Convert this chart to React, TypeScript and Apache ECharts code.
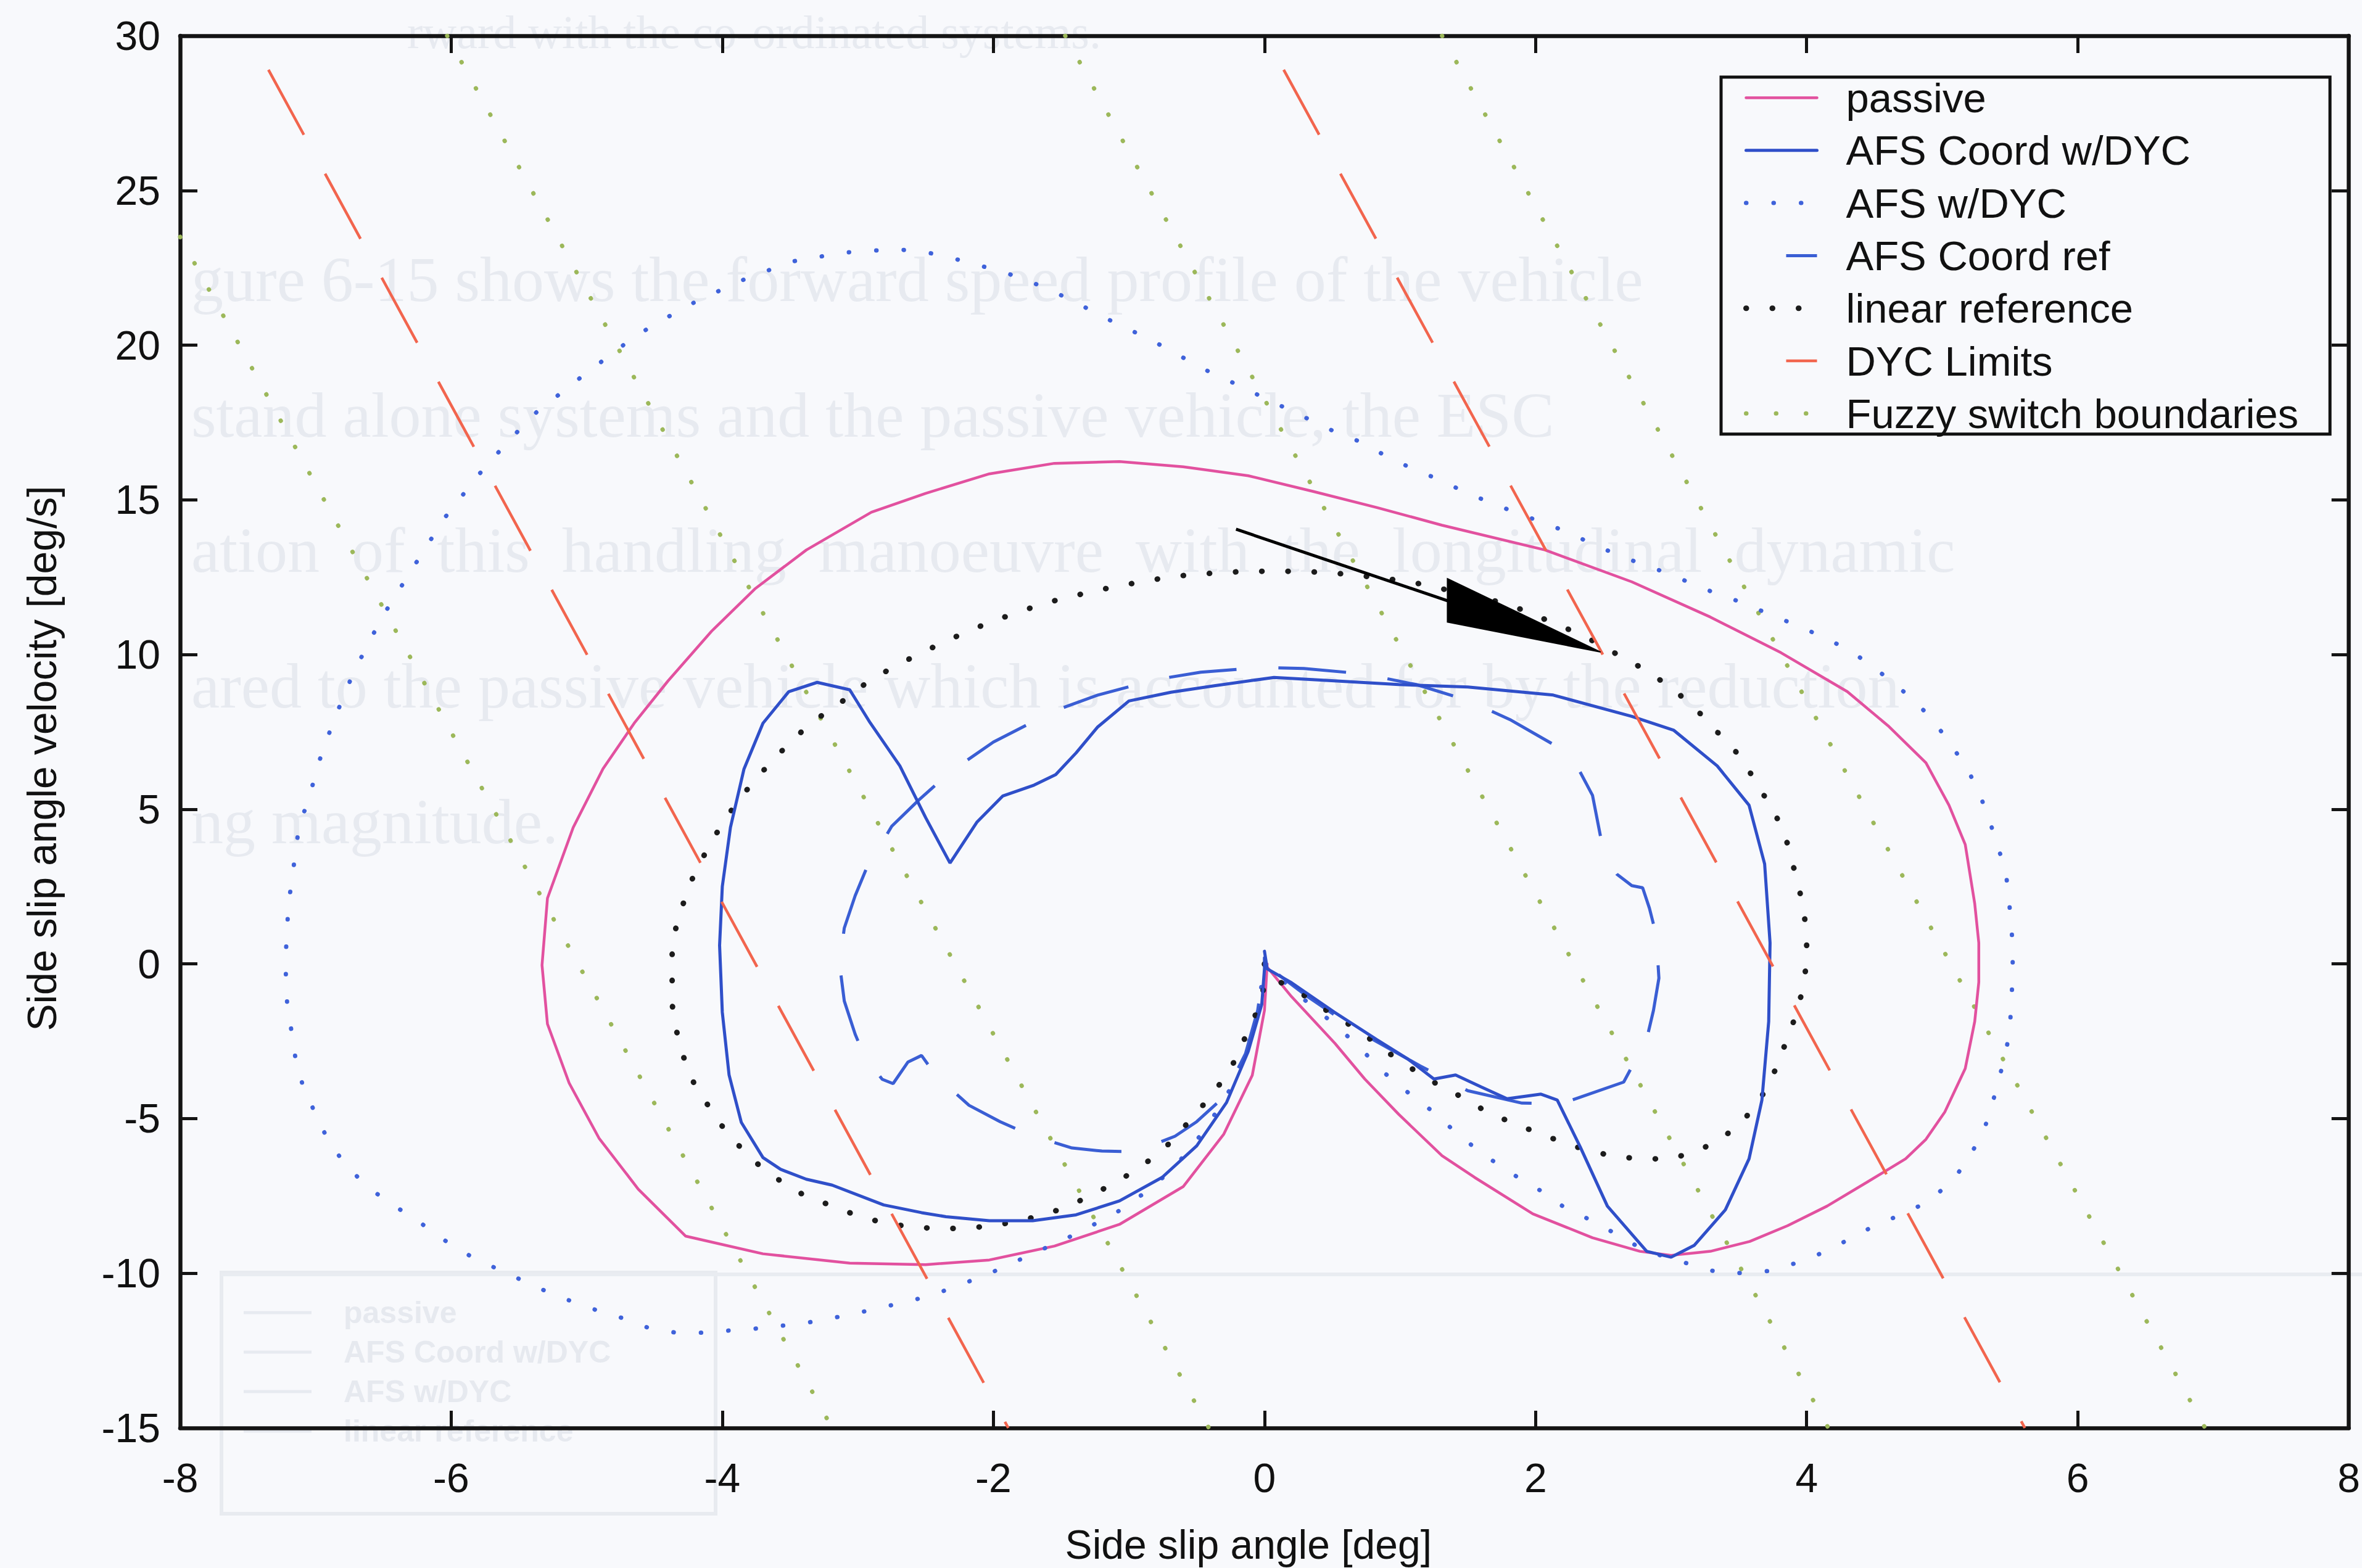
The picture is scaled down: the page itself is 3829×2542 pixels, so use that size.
import React, { useEffect, useRef } from "react";
import * as echarts from "echarts";

const W = 3829;
const H = 2542;
const FONT = "'Liberation Sans', Arial, Helvetica, sans-serif";
const SERIF = "'Liberation Serif', 'DejaVu Serif', serif";

// axes
const X_MIN = -8, X_MAX = 8, X_STEP = 2;
const Y_MIN = -15, Y_MAX = 30, Y_STEP = 5;
const X_NAME = "Side slip angle [deg]";
const Y_NAME = "Side slip angle velocity [deg/s]";

const NAMES = [
  "passive",
  "AFS Coord w/DYC",
  "AFS w/DYC",
  "AFS Coord ref",
  "linear reference",
  "DYC Limits",
  "Fuzzy switch boundaries",
];

// passive
const passive: number[][] = [
  [0, 0], [0.2, -1.06], [0.52, -2.57], [0.74, -3.72], [0.99, -4.86], [1.31, -6.2], [1.55, -6.9],
  [1.98, -8.08], [2.42, -8.85], [2.77, -9.29], [3.0, -9.42], [3.29, -9.29], [3.58, -8.97],
  [3.86, -8.46], [4.15, -7.83], [4.44, -7.07], [4.73, -6.3], [4.88, -5.67], [5.02, -4.78],
  [5.17, -3.38], [5.24, -1.86], [5.27, -0.59], [5.27, 0.68], [5.24, 1.95], [5.17, 3.86],
  [5.05, 5.13], [4.88, 6.5], [4.6, 7.7], [4.3, 8.8], [3.81, 10.06], [3.29, 11.21], [2.71, 12.35],
  [2.07, 13.38], [1.31, 14.18], [0.83, 14.75], [0.36, 15.27], [-0.12, 15.78], [-0.6, 16.07],
  [-1.07, 16.24], [-1.55, 16.18], [-2.03, 15.84], [-2.5, 15.21], [-2.9, 14.6], [-3.38, 13.38],
  [-3.76, 12.12], [-4.08, 10.75], [-4.4, 9.15], [-4.65, 7.78], [-4.88, 6.31], [-5.1, 4.41],
  [-5.29, 2.12], [-5.33, -0.04], [-5.29, -1.94], [-5.13, -3.85], [-4.91, -5.63], [-4.62, -7.28],
  [-4.27, -8.8], [-3.7, -9.37], [-3.06, -9.67], [-2.5, -9.72], [-2.03, -9.57], [-1.55, -9.12],
  [-1.07, -8.42], [-0.6, -7.2], [-0.3, -5.5], [-0.09, -3.6], [0, -1.5], [0.02, 0],
];

// AFS Coord w/DYC
const afsCoordDyc: number[][] = [
  [0, 0.41], [0.02, -0.16], [0.2, -0.61], [0.515, -1.56], [0.83, -2.45], [1.06, -3.08],
  [1.25, -3.72], [1.41, -3.59], [1.6, -3.98], [1.79, -4.36], [2.04, -4.21], [2.16, -4.4],
  [2.33, -5.92], [2.53, -7.83], [2.82, -9.29], [3.0, -9.48], [3.17, -9.1], [3.4, -7.95],
  [3.575, -6.3], [3.67, -4.4], [3.72, -1.86], [3.73, 0.68], [3.69, 3.23], [3.575, 5.13],
  [3.34, 6.4], [3.02, 7.55], [2.71, 8.0], [2.13, 8.69], [1.5, 8.95], [0.99, 9.03], [0.515, 9.15],
  [0.07, 9.26], [-0.37, 8.99], [-0.69, 8.78], [-1.0, 8.5], [-1.23, 7.66], [-1.39, 6.82],
  [-1.54, 6.12], [-1.7, 5.78], [-1.93, 5.43], [-2.12, 4.59], [-2.32, 3.26], [-2.5, 4.73],
  [-2.69, 6.4], [-2.91, 7.8], [-3.06, 8.86], [-3.3, 9.1], [-3.51, 8.8], [-3.7, 7.78],
  [-3.84, 6.3], [-3.94, 4.41], [-4.0, 2.5], [-4.02, 0.6], [-4.0, -1.56], [-3.95, -3.59],
  [-3.86, -5.12], [-3.7, -6.26], [-3.57, -6.64], [-3.38, -6.96], [-3.19, -7.15], [-2.81, -7.79],
  [-2.53, -8.04], [-2.35, -8.17], [-2.03, -8.3], [-1.71, -8.3], [-1.39, -8.11], [-1.07, -7.66],
  [-0.755, -6.9], [-0.5, -5.88], [-0.28, -4.48], [-0.12, -2.83], [-0.02, -1.31], [0, -0.16],
  [0, 0.2],
];

// AFS w/DYC
const afsDyc: number[][] = [
  [0, 0], [0.25, -1.0], [0.48, -1.82], [0.675, -2.58], [0.87, -3.47], [1.06, -4.16], [1.25, -4.8],
  [1.44, -5.56], [1.63, -6.2], [1.82, -6.77], [2.01, -7.25], [2.2, -7.83], [2.4, -8.27],
  [2.59, -8.72], [2.78, -9.2], [2.97, -9.5], [3.16, -9.73], [3.36, -9.99], [3.55, -9.99],
  [3.73, -9.92], [3.92, -9.67], [4.11, -9.35], [4.31, -8.91], [4.5, -8.46], [4.7, -8.1],
  [4.89, -7.7], [5.08, -7.0], [5.21, -6.17], [5.31, -5.35], [5.37, -4.52], [5.42, -3.7],
  [5.47, -2.87], [5.5, -2.05], [5.51, -1.22], [5.52, -0.4], [5.52, 0.43], [5.51, 1.32],
  [5.49, 2.14], [5.47, 2.97], [5.41, 3.8], [5.35, 4.62], [5.28, 5.45], [5.19, 6.27], [5.06, 7.12],
  [4.91, 8.0], [4.73, 8.75], [4.54, 9.43], [4.36, 10.01], [4.17, 10.47], [3.97, 10.86],
  [3.78, 11.21], [3.59, 11.55], [3.4, 11.89], [3.2, 12.18], [3.01, 12.58], [2.82, 12.86],
  [2.62, 13.2], [2.43, 13.55], [2.24, 13.95], [2.04, 14.29], [1.86, 14.58], [1.66, 14.92],
  [1.47, 15.27], [1.28, 15.67], [1.09, 16.01], [0.9, 16.41], [0.71, 16.87], [0.515, 17.21],
  [0.325, 17.61], [0.135, 18.01], [-0.056, 18.41], [-0.245, 18.81], [-0.44, 19.21],
  [-0.63, 19.67], [-0.82, 20.13], [-1.01, 20.53], [-1.2, 20.93], [-1.39, 21.38], [-1.58, 21.78],
  [-1.77, 22.13], [-1.96, 22.41], [-2.16, 22.64], [-2.35, 22.87], [-2.54, 23.04], [-2.73, 23.1],
  [-3.11, 22.99], [-3.49, 22.7], [-3.87, 22.07], [-4.26, 21.27], [-4.64, 20.3], [-5.02, 19.04],
  [-5.4, 17.73], [-5.75, 16.07], [-6.05, 14.41], [-6.29, 12.75], [-6.51, 11.21], [-6.72, 9.43],
  [-6.87, 7.83], [-6.97, 6.6], [-7.05, 5.36], [-7.12, 4.47], [-7.15, 3.65], [-7.17, 2.82],
  [-7.2, 1.99], [-7.21, 1.17], [-7.22, 0.34], [-7.22, -0.55], [-7.21, -1.31], [-7.18, -2.13],
  [-7.15, -3.02], [-7.1, -3.85], [-7.02, -4.67], [-6.93, -5.5], [-6.8, -6.39], [-6.62, -7.21],
  [-6.43, -7.79], [-6.23, -8.36], [-6.05, -8.93], [-5.86, -9.44], [-5.65, -9.88], [-5.46, -10.26],
  [-5.27, -10.64], [-5.08, -10.96], [-4.91, -11.22], [-4.72, -11.47], [-4.53, -11.79],
  [-4.34, -11.92], [-4.14, -11.92], [-3.95, -11.85], [-3.76, -11.79], [-3.57, -11.7],
  [-3.38, -11.6], [-3.19, -11.45], [-3.0, -11.28], [-2.81, -11.09], [-2.6, -10.88],
  [-2.41, -10.64], [-2.22, -10.33], [-2.03, -10.01], [-1.84, -9.63], [-1.65, -9.25],
  [-1.46, -8.87], [-1.27, -8.45], [-1.08, -8.0], [-0.9, -7.45], [-0.72, -6.8], [-0.55, -6.0],
  [-0.4, -5.1], [-0.26, -4.1], [-0.14, -2.9], [-0.05, -1.6], [0, 0],
];

// AFS Coord ref
const afsCoordRef: number[][] = [
  [0, 0], [-0.05, -1.5], [-0.14, -2.9], [-0.3, -4.3], [-0.5, -5.1], [-0.66, -5.57],
  [-0.95, -6.07], [-1.2, -6.05], [-1.42, -5.95], [-1.72, -5.55], [-1.95, -5.1], [-2.18, -4.57],
  [-2.35, -3.9], [-2.45, -3.45], [-2.53, -2.96], [-2.63, -3.17], [-2.74, -3.87], [-2.82, -3.73],
  [-2.95, -3.0], [-3.02, -2.27], [-3.1, -1.2], [-3.13, -0.17], [-3.12, 0.5], [-3.1, 1.16],
  [-3.02, 2.2], [-2.94, 3.05], [-2.75, 4.45], [-2.55, 5.3], [-2.32, 6.2], [-2.0, 7.17],
  [-1.55, 8.18], [-1.23, 8.69], [-0.79, 9.2], [-0.47, 9.43], [-0.025, 9.58], [0.29, 9.55],
  [0.72, 9.38], [1.12, 9.03], [1.5, 8.52], [1.81, 7.9], [2.26, 6.77], [2.42, 5.45], [2.505, 3.54],
  [2.6, 2.9], [2.71, 2.53], [2.79, 2.46], [2.84, 1.8], [2.89, 0.94], [2.91, -0.46], [2.87, -1.5],
  [2.82, -2.43], [2.65, -3.82], [2.19, -4.52], [1.9, -4.5], [1.5, -4.1], [1.15, -3.3],
  [0.7, -2.2], [0.3, -1.0], [0, 0],
];

// linear reference
const linearRef: number[][] = [
  [0, 0], [-0.01, -0.86], [-0.07, -1.69], [-0.15, -2.45], [-0.25, -3.4], [-0.375, -4.16],
  [-0.535, -4.99], [-0.72, -5.88], [-0.915, -6.58], [-1.11, -7.09], [-1.3, -7.53], [-1.49, -7.91],
  [-1.68, -8.17], [-1.87, -8.36], [-2.06, -8.49], [-2.25, -8.55], [-2.44, -8.55], [-2.63, -8.49],
  [-2.82, -8.36], [-3.02, -8.11], [-3.21, -7.79], [-3.4, -7.47], [-3.59, -6.96], [-3.78, -6.33],
  [-3.97, -5.44], [-4.1, -4.61], [-4.21, -3.85], [-4.29, -2.96], [-4.34, -2.13], [-4.37, -1.31],
  [-4.37, -0.48], [-4.37, 0.41], [-4.34, 1.23], [-4.28, 2.06], [-4.21, 2.88], [-4.11, 3.71],
  [-4.0, 4.54], [-3.87, 5.36], [-3.71, 6.19], [-3.54, 6.98], [-3.35, 7.78], [-3.14, 8.4],
  [-2.97, 8.98], [-2.78, 9.49], [-2.58, 9.95], [-2.39, 10.35], [-2.2, 10.73], [-2.01, 11.07],
  [-1.81, 11.38], [-1.62, 11.66], [-1.43, 11.87], [-1.25, 12.06], [-1.06, 12.23], [-0.87, 12.38],
  [-0.68, 12.52], [-0.48, 12.6], [-0.285, 12.66], [-0.094, 12.69], [0.097, 12.69], [0.285, 12.69],
  [0.475, 12.64], [0.66, 12.58], [0.85, 12.47], [1.04, 12.38], [1.24, 12.2], [1.43, 12.0],
  [1.62, 11.82], [1.81, 11.61], [2.0, 11.26], [2.19, 10.92], [2.39, 10.52], [2.58, 10.06],
  [2.77, 9.6], [2.97, 9.03], [3.16, 8.35], [3.34, 7.5], [3.52, 6.66], [3.63, 5.83], [3.75, 5.0],
  [3.84, 4.18], [3.89, 3.35], [3.94, 2.53], [3.98, 1.7], [4.0, 0.87], [4.0, 0.05], [3.97, -0.84],
  [3.92, -1.67], [3.85, -2.49], [3.78, -3.32], [3.69, -4.14], [3.55, -4.97], [3.37, -5.67],
  [3.19, -6.05], [3.0, -6.3], [2.79, -6.3], [2.61, -6.24], [2.4, -6.05], [2.22, -5.8],
  [2.03, -5.48], [1.84, -5.16], [1.64, -4.78], [1.45, -4.29], [1.26, -3.85], [1.07, -3.34],
  [0.88, -2.77], [0.69, -2.13], [0.5, -1.63], [0.31, -1.06], [0.1, -0.55], [0, 0],
];

// DYC Limits (two parallel segments)
const dycLimitA: number[][] = [[-7.49, 30.04], [-1.89, -15]];
const dycLimitB: number[][] = [[0.0, 30.04], [5.61, -15]];

// Fuzzy switch boundaries (four parallel segments)
const fuzzyA: number[][] = [[-8, 23.5], [-3.19, -15]];
const fuzzyB: number[][] = [[-6.03, 30], [-0.41, -15]];
const fuzzyC: number[][] = [[-1.47, 30], [4.16, -15]];
const fuzzyD: number[][] = [[1.31, 30], [6.94, -15]];

// annotation arrow
const arrowShaft: number[][] = [[-0.21, 14.05], [1.35, 11.74]];
const arrowHead: number[][] = [[1.35, 12.45], [2.48, 10.08], [1.35, 11.05]];

// faint show-through text of the scanned page
const GHOST_LINES = [
  "rward with the co-ordinated systems.",
  "gure 6-15 shows the forward speed profile of the vehicle",
  "stand alone systems and the passive vehicle, the ESC",
  "ation  of  this  handling  manoeuvre  with  the  longitudinal  dynamic",
  "ared to the passive vehicle which is accounted for by the reduction",
  "ng magnitude.",
];
const GHOST_LEGEND = ["passive", "AFS Coord w/DYC", "AFS w/DYC", "linear reference"];

const COLORS = {
  passive: "#e2519f",
  coord: "#2f4fc9",
  afs: "#3f62da",
  ref: "#3a5ed4",
  linear: "#1c1c1c",
  dyc: "#f2654e",
  fuzzy: "#9cb85a",
};

function line(
  name: string | undefined,
  data: number[][],
  color: string,
  width: number,
  type: any,
  cap = "butt",
  z = 2,
  dashOffset = 0
) {
  return {
    name,
    type: "line",
    data,
    symbol: "none",
    showSymbol: false,
    smooth: false,
    silent: true,
    z,
    lineStyle: { color, width, type, cap, dashOffset },
    itemStyle: { color },
    emphasis: { disabled: true },
  };
}

export default function App() {
  const ref = useRef<HTMLDivElement>(null);
  useEffect(() => {
    if (!ref.current) return;
    const chart = echarts.init(ref.current, undefined, { renderer: "svg" });

    const ghost: any[] = [];
    const ghostY = [52, 452, 672, 891, 1111, 1331];
    GHOST_LINES.forEach((t, i) => {
      ghost.push({
        type: "text",
        x: i === 0 ? 660 : 310,
        y: ghostY[i],
        z: -5,
        silent: true,
        style: {
          text: t,
          fill: "#e7eaf0",
          font: `${i === 0 ? 76 : 104}px ${SERIF}`,
          textVerticalAlign: "middle",
          textAlign: "left",
        },
      });
    });
    ghost.push({
      type: "rect",
      z: -5,
      silent: true,
      shape: { x: 359, y: 2063, width: 801, height: 391 },
      style: { fill: "none", stroke: "#e8ebf0", lineWidth: 6 },
    });
    ghost.push({
      type: "line",
      z: -5,
      silent: true,
      shape: { x1: 359, y1: 2066, x2: W, y2: 2066 },
      style: { stroke: "#e9ecf1", lineWidth: 6 },
    });
    GHOST_LEGEND.forEach((t, i) => {
      const gy = 2128 + i * 64;
      ghost.push({
        type: "text",
        x: 557,
        y: gy,
        z: -5,
        silent: true,
        style: { text: t, fill: "#e6e9ef", font: `bold 50px ${FONT}`, textVerticalAlign: "middle" },
      });
      ghost.push({
        type: "line",
        z: -5,
        silent: true,
        shape: { x1: 395, y1: gy, x2: 505, y2: gy },
        style: { stroke: "#e7eaf0", lineWidth: 5 },
      });
    });

    const axisCommon = {
      axisLine: { show: true, onZero: false, lineStyle: { color: "#141414", width: 6.5 } },
      axisTick: { show: true, inside: true, length: 28, lineStyle: { color: "#141414", width: 5 } },
      splitLine: { show: false },
    };

    const dotted = (gap: number) => [0.5, gap];

    const option: any = {
      animation: false,
      backgroundColor: "#f8f9fc",
      graphic: ghost,
      grid: { left: 292, right: 4, top: 58, bottom: 224, containLabel: false },
      xAxis: [
        {
          type: "value",
          min: X_MIN,
          max: X_MAX,
          interval: X_STEP,
          position: "bottom",
          name: X_NAME,
          nameLocation: "middle",
          nameGap: 156,
          nameTextStyle: { fontSize: 66, fontFamily: FONT, color: "#111", padding: [0, 52, 0, 0] },
          axisLabel: { show: true, fontSize: 66, fontFamily: FONT, color: "#111", margin: 48 },
          ...axisCommon,
        },
        {
          type: "value",
          min: X_MIN,
          max: X_MAX,
          interval: X_STEP,
          position: "top",
          axisLabel: { show: false },
          ...axisCommon,
        },
      ],
      yAxis: [
        {
          type: "value",
          min: Y_MIN,
          max: Y_MAX,
          interval: Y_STEP,
          position: "left",
          name: Y_NAME,
          nameLocation: "middle",
          nameGap: 191,
          nameRotate: 90,
          nameTextStyle: { fontSize: 66, fontFamily: FONT, color: "#111", padding: [0, 86, 0, 0] },
          axisLabel: { show: true, fontSize: 66, fontFamily: FONT, color: "#111", margin: 32 },
          ...axisCommon,
        },
        {
          type: "value",
          min: Y_MIN,
          max: Y_MAX,
          interval: Y_STEP,
          position: "right",
          axisLabel: { show: false },
          ...axisCommon,
        },
      ],
      legend: {
        data: NAMES,
        orient: "vertical",
        left: 2790,
        top: 125,
        padding: [0, 51, 0, 36],
        itemGap: 18.3,
        itemWidth: 115,
        itemHeight: 20,
        borderColor: "#111",
        borderWidth: 5,
        backgroundColor: "rgba(0,0,0,0)",
        selectedMode: false,
        itemStyle: { opacity: 0 },
        lineStyle: { width: "inherit" },
        textStyle: {
          fontSize: 67,
          fontFamily: FONT,
          color: "#111",
          padding: [0, 0, 0, 42],
        },
      },
      series: [
        line(NAMES[0], passive, COLORS.passive, 4.5, "solid", "round", 3),
        line(NAMES[1], afsCoordDyc, COLORS.coord, 5, "solid", "round", 4),
        line(NAMES[2], afsDyc, COLORS.afs, 7, dotted(44), "round", 3),
        line(NAMES[3], afsCoordRef, COLORS.ref, 5, [110, 68], "butt", 3, 113),
        line(NAMES[4], linearRef, COLORS.linear, 9, dotted(42), "round", 3),
        line(NAMES[5], dycLimitA, COLORS.dyc, 4.5, [120, 72], "butt", 5, 127),
        line(NAMES[5], dycLimitB, COLORS.dyc, 4.5, [120, 72], "butt", 5, 127),
        line(NAMES[6], fuzzyA, COLORS.fuzzy, 7, dotted(48), "round", 2),
        line(NAMES[6], fuzzyB, COLORS.fuzzy, 7, dotted(48), "round", 2),
        line(NAMES[6], fuzzyC, COLORS.fuzzy, 7, dotted(48), "round", 2),
        line(NAMES[6], fuzzyD, COLORS.fuzzy, 7, dotted(48), "round", 2),
        line(undefined, arrowShaft, "#000", 5, "solid", "butt", 6),
        {
          type: "custom",
          silent: true,
          z: 6,
          data: [arrowHead[1]],
          renderItem: (_p: any, api: any) => ({
            type: "polygon",
            shape: { points: arrowHead.map((p) => api.coord(p)) },
            style: { fill: "#000", stroke: "#000", lineWidth: 2 },
          }),
        },
      ],
    };

    chart.setOption(option);
    return () => chart.dispose();
  }, []);

  return (
    <div
      ref={ref}
      style={{ position: "fixed", left: 0, top: 0, width: W, height: H, background: "#f8f9fc" }}
    />
  );
}
